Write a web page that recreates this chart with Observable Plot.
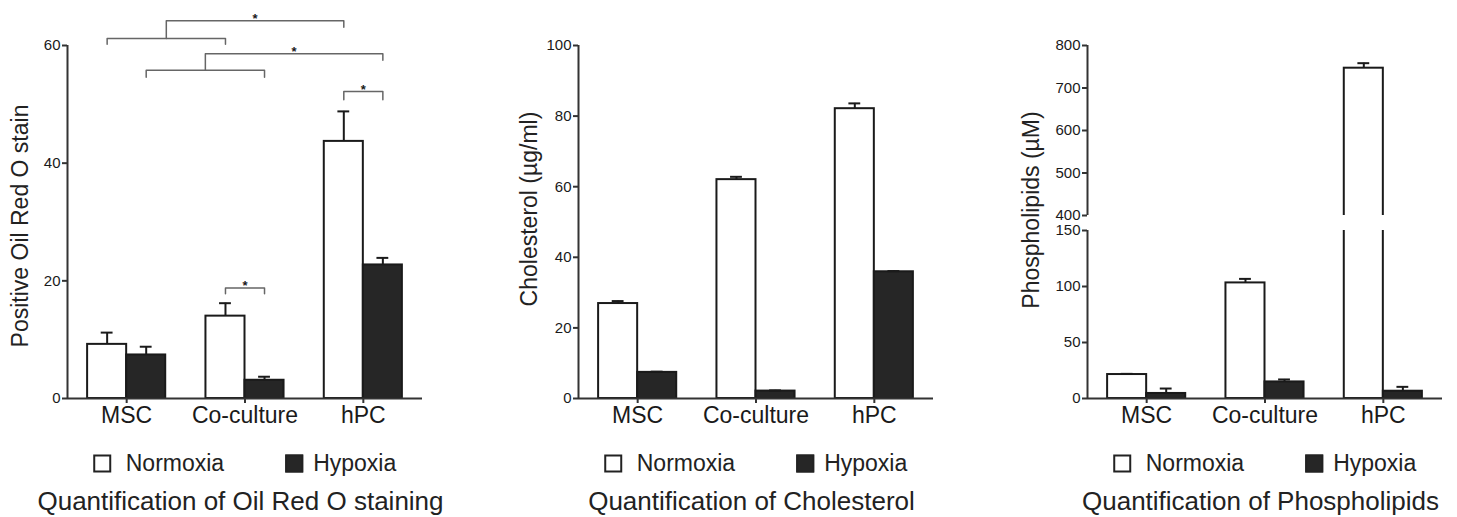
<!DOCTYPE html>
<html><head><meta charset="utf-8">
<script src="https://cdn.jsdelivr.net/npm/d3@7"></script>
<script src="https://cdn.jsdelivr.net/npm/@observablehq/plot@0.6"></script>
<style>
body{margin:0;background:#fff;font-family:"Liberation Sans",Arial,sans-serif;}
#fig{position:relative;width:1457px;height:517px;overflow:hidden;}
.panel{position:absolute;}
.ylab{position:absolute;white-space:nowrap;font-size:23px;color:#222;transform:translate(-50%,-50%) rotate(-90deg);}
.legend{position:absolute;top:463px;transform:translate(-50%,-50%);display:flex;align-items:center;font-size:23px;white-space:nowrap;color:#222;}
.sw{width:14px;height:14px;border:2px solid #222;display:inline-block;margin-right:15px;}
.item{display:flex;align-items:center;}
.title{position:absolute;top:501px;transform:translate(-50%,-50%);font-size:26px;white-space:nowrap;color:#222;}
</style></head><body><div id="fig"></div>
<script>
// ---- data ----
const categories = ["MSC", "Co-culture", "hPC"];
const groups = ["Normoxia", "Hypoxia"];
const groupColors = ["#ffffff", "#262626"];

const oilNormoxia = [9.2, 14.0, 43.7];
const oilNormoxiaErr = [2.0, 2.2, 5.1];
const oilHypoxia = [7.4, 3.1, 22.7];
const oilHypoxiaErr = [1.4, 0.6, 1.2];

const cholNormoxia = [26.9, 62.0, 82.1];
const cholNormoxiaErr = [0.7, 0.8, 1.5];
const cholHypoxia = [7.4, 2.1, 35.9];
const cholHypoxiaErr = [0.2, 0.2, 0.2];

const phosNormoxia = [21.4, 103.2, 746.6];
const phosNormoxiaErr = [0.6, 3.6, 11.8];
const phosHypoxia = [4.5, 14.8, 6.5];
const phosHypoxiaErr = [4.4, 2.2, 3.9];

const oilTicks = [0, 20, 40, 60];
const cholTicks = [0, 20, 40, 60, 80, 100];
const phosTicksLow = [0, 50, 100, 150];
const phosTicksHigh = [400, 500, 600, 700, 800];

const yLabels = ["Positive Oil Red O stain", "Cholesterol (\u00b5g/ml)", "Phospholipids (\u00b5M)"];
const titles = ["Quantification of Oil Red O staining", "Quantification of Cholesterol", "Quantification of Phospholipids"];

// significance brackets (Oil Red O panel): endpoints reference bars, levels in data units
const oilBrackets = [
  {left: ["MSC|Normoxia"], right: ["Co-culture|Normoxia"], y: 61.2, yl: 60.2, yr: 60.2, star: false},
  {left: ["MSC|Normoxia", "Co-culture|Normoxia"], right: ["hPC|Normoxia"], y: 64.2, yl: 61.2, yr: 63.1, star: true},
  {left: ["MSC|Hypoxia"], right: ["Co-culture|Hypoxia"], y: 55.8, yl: 54.6, yr: 54.6, star: false},
  {left: ["MSC|Hypoxia", "Co-culture|Hypoxia"], right: ["hPC|Hypoxia"], y: 58.6, yl: 55.8, yr: 57.5, star: true},
  {left: ["hPC|Normoxia"], right: ["hPC|Hypoxia"], y: 52.2, yl: 50.8, yr: 50.8, star: true},
  {left: ["Co-culture|Normoxia"], right: ["Co-culture|Hypoxia"], y: 18.8, yl: 17.8, yr: 17.8, star: true}
];

// ---- helpers ----
const xDomain = [-0.5, 2.5];
const barW = 0.33;
const capHalf = 0.05;
const INK = "#1a1a1a";
const FONT = "'Liberation Sans', Arial, sans-serif";

function rowsFor(norm, normErr, hyp, hypErr) {
  return categories.flatMap((c, ci) => [
    {category: c, ci, group: groups[0], gi: 0, value: norm[ci], err: normErr[ci]},
    {category: c, ci, group: groups[1], gi: 1, value: hyp[ci], err: hypErr[ci]}
  ]);
}
const center = d => d.ci + (d.gi - 0.5) * barW;
const keyCenter = k => {
  const [c, g] = k.split("|");
  return categories.indexOf(c) + (groups.indexOf(g) - 0.5) * barW;
};

function barPlot({rows, yDomain, ticks, height, marginTop, marginBottom, clip = false, xAxis = true, extra = []}) {
  return Plot.plot({
    width: 436, height, marginLeft: 67, marginRight: 14, marginTop, marginBottom,
    x: {type: "linear", domain: xDomain, axis: null},
    y: {domain: yDomain, axis: null},
    color: {domain: groups, range: groupColors},
    style: {fontFamily: FONT, color: INK, background: "transparent", overflow: "visible"},
    marks: [
      Plot.rect(rows, {
        x1: d => d.ci + (d.gi - 1) * barW, x2: d => d.ci + d.gi * barW,
        y1: 0, y2: "value", fill: "group", stroke: INK, strokeWidth: 2, clip
      }),
      Plot.ruleX(rows, {x: center, y1: "value", y2: d => d.value + d.err, stroke: INK, strokeWidth: 2, clip}),
      Plot.ruleY(rows, {y: d => d.value + d.err, x1: d => center(d) - capHalf, x2: d => center(d) + capHalf, stroke: INK, strokeWidth: 2, clip}),
      Plot.ruleX([xDomain[0]], {stroke: "#333", strokeWidth: 2}),
      Plot.axisY({ticks, tickSize: 5, tickPadding: 2, fontSize: 15, label: null, stroke: "#333", strokeWidth: 2}),
      xAxis ? Plot.ruleY([yDomain[0]], {stroke: "#333", strokeWidth: 2}) : null,
      xAxis ? Plot.axisX({ticks: [0, 1, 2], tickFormat: i => categories[i], tickSize: 5, tickPadding: 3, fontSize: 23, label: null, stroke: "#333", strokeWidth: 2}) : null,
      ...extra
    ]
  });
}

// brackets
const bracketPts = oilBrackets.flatMap((b, i) => {
  const xl = d3.mean(b.left, keyCenter), xr = d3.mean(b.right, keyCenter);
  return [{i, x: xl, y: b.yl}, {i, x: xl, y: b.y}, {i, x: xr, y: b.y}, {i, x: xr, y: b.yr}];
});
const stars = oilBrackets.filter(b => b.star).map(b => ({
  x: (d3.mean(b.left, keyCenter) + d3.mean(b.right, keyCenter)) / 2, y: b.y
}));
const bracketMarks = [
  Plot.line(bracketPts, {x: "x", y: "y", z: "i", stroke: "#666", strokeWidth: 1.5}),
  Plot.text(stars, {x: "x", y: "y", text: () => "*", fontSize: 13, fill: INK, dy: -2, fontWeight: "bold"})
];

// ---- layout ----
const fig = document.getElementById("fig");
function place(node, left, top) {
  const d = document.createElement("div");
  d.className = "panel";
  d.style.left = left + "px";
  d.style.top = top + "px";
  d.appendChild(node);
  fig.appendChild(d);
}
function addText(cls, text, cx, cy) {
  const d = document.createElement("div");
  d.className = cls;
  d.textContent = text;
  d.style.left = cx + "px";
  if (cy != null) d.style.top = cy + "px";
  fig.appendChild(d);
}
function addLegend(cx) {
  const d = document.createElement("div");
  d.className = "legend";
  d.style.left = cx + "px";
  groups.forEach((g, i) => {
    const it = document.createElement("div");
    it.className = "item";
    if (i > 0) it.style.marginLeft = "61px";
    const sw = document.createElement("span");
    sw.className = "sw";
    sw.style.background = groupColors[i];
    if (i > 0) sw.style.marginRight = "10px";
    it.appendChild(sw);
    it.appendChild(document.createTextNode(g));
    d.appendChild(it);
  });
  fig.appendChild(d);
}

const panelLefts = [0, 511, 1020];
const frameCenter = L => L + 67 + 177.5;

// Panel 1
place(barPlot({rows: rowsFor(oilNormoxia, oilNormoxiaErr, oilHypoxia, oilHypoxiaErr), yDomain: [0, 60], ticks: oilTicks,
  height: 440, marginTop: 45, marginBottom: 42, extra: bracketMarks}), panelLefts[0], 0);
// Panel 2
place(barPlot({rows: rowsFor(cholNormoxia, cholNormoxiaErr, cholHypoxia, cholHypoxiaErr), yDomain: [0, 100], ticks: cholTicks,
  height: 440, marginTop: 45, marginBottom: 42}), panelLefts[1], 0);
// Panel 3 (broken axis: upper and lower segments)
const phosRows = rowsFor(phosNormoxia, phosNormoxiaErr, phosHypoxia, phosHypoxiaErr);
place(barPlot({rows: phosRows, yDomain: [400, 800], ticks: phosTicksHigh, height: 222, marginTop: 45, marginBottom: 7, clip: true, xAxis: false}), panelLefts[2], 0);
place(barPlot({rows: phosRows, yDomain: [0, 150], ticks: phosTicksLow, height: 218, marginTop: 8, marginBottom: 42, clip: true}), panelLefts[2], 222);

const yLabelPos = [[20, 226], [529, 209], [1031, 210]];
yLabels.forEach((t, i) => addText("ylab", t, yLabelPos[i][0], yLabelPos[i][1]));
panelLefts.forEach((L, i) => { addLegend(frameCenter(L)); addText("title", titles[i], frameCenter(L) - 4); });
</script></body></html>
